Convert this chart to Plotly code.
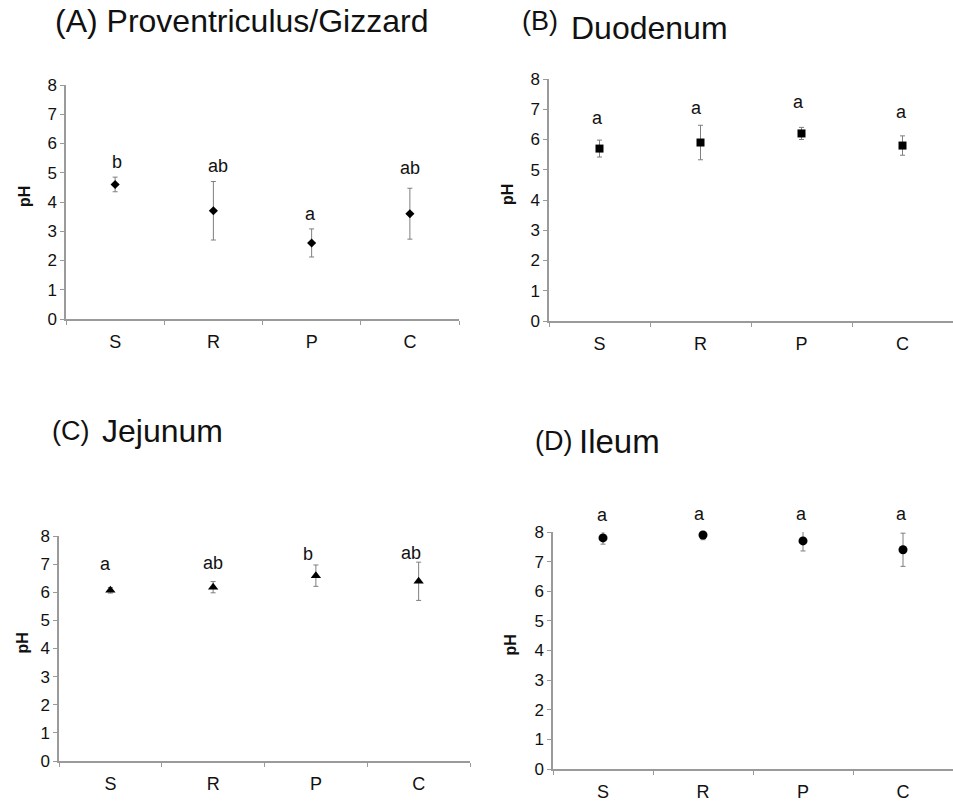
import plotly.graph_objects as go

W, H = 953, 801

categories = ["S", "R", "P", "C"]

# Panel values (mean pH and error)
gizzard_mean = [4.6, 3.7, 2.6, 3.6]
gizzard_err = [0.25, 1.0, 0.48, 0.87]
gizzard_letters = ["b", "ab", "a", "ab"]
gizzard_letter_y = [5.38, 5.23, 3.6, 5.15]

duodenum_mean = [5.7, 5.9, 6.2, 5.8]
duodenum_err = [0.28, 0.57, 0.2, 0.32]
duodenum_letters = ["a", "a", "a", "a"]
duodenum_letter_y = [6.7, 7.03, 7.23, 6.9]

jejunum_mean = [6.07, 6.18, 6.59, 6.39]
jejunum_err = [0.1, 0.2, 0.38, 0.68]
jejunum_letters = ["a", "ab", "b", "ab"]
jejunum_letter_y = [7.01, 7.05, 7.37, 7.4]

ileum_mean = [7.8, 7.9, 7.7, 7.4]
ileum_err = [0.21, 0.16, 0.34, 0.56]
ileum_letters = ["a", "a", "a", "a"]
ileum_letter_y = [8.59, 8.6, 8.62, 8.62]

yticks = [0, 1, 2, 3, 4, 5, 6, 7, 8]
YMAX = 8


def px(x):
    return x / W


def py(y):
    return 1 - y / H


FONT = "Liberation Sans, Arial, sans-serif"
AXIS_GRAY = "#9a9a9a"

panels = [
    dict(mean=gizzard_mean, err=gizzard_err, letters=gizzard_letters, ly=gizzard_letter_y,
         symbol="diamond", size=7, xd=(66, 459), yd=(85, 319), phx=25,
         shifts=[2, 5, -1, 0]),
    dict(mean=duodenum_mean, err=duodenum_err, letters=duodenum_letters, ly=duodenum_letter_y,
         symbol="square", size=8, xd=(549, 953), yd=(79, 321), phx=507,
         shifts=[-2, -4, -3, -1]),
    dict(mean=jejunum_mean, err=jejunum_err, letters=jejunum_letters, ly=jejunum_letter_y,
         symbol="triangle-up", size=9, xd=(59, 470), yd=(536, 761), phx=22,
         shifts=[-5, 0, -8, -8]),
    dict(mean=ileum_mean, err=ileum_err, letters=ileum_letters, ly=ileum_letter_y,
         symbol="circle", size=9, xd=(553, 953), yd=(532, 769), phx=510,
         shifts=[-1, -4, -2, -2]),
]

fig = go.Figure()
annotations = []
layout = {}

for i, p in enumerate(panels, start=1):
    xa = "x" if i == 1 else f"x{i}"
    ya = "y" if i == 1 else f"y{i}"
    fig.add_trace(go.Scatter(
        x=categories, y=p["mean"], mode="markers",
        marker=dict(symbol=p["symbol"], size=p["size"], color="black"),
        error_y=dict(type="data", array=p["err"], color="#7f7f7f", thickness=1, width=2.5),
        xaxis=xa, yaxis=ya, cliponaxis=False, showlegend=False, hoverinfo="skip",
    ))
    layout["xaxis" if i == 1 else f"xaxis{i}"] = dict(
        domain=[px(p["xd"][0]), min(1.0, px(p["xd"][1]))],
        anchor=ya, type="category", categoryarray=categories,
        range=[-0.5, 3.5], tickson="boundaries", ticks="outside", ticklen=4,
        ticklabelstandoff=6,
        tickcolor=AXIS_GRAY, showline=True, linecolor=AXIS_GRAY, linewidth=1.5,
        showgrid=False, zeroline=False,
        tickfont=dict(family=FONT, size=18, color="#111"),
    )
    layout["yaxis" if i == 1 else f"yaxis{i}"] = dict(
        domain=[py(p["yd"][1]), py(p["yd"][0])],
        anchor=xa, range=[0, YMAX], tickvals=yticks, ticks="outside", ticklen=4,
        tickcolor=AXIS_GRAY, showline=True, linecolor=AXIS_GRAY, linewidth=1.5,
        showgrid=False, zeroline=False,
        tickfont=dict(family=FONT, size=17, color="#111"),
    )
    for c, lt, ly, sh in zip(categories, p["letters"], p["ly"], p["shifts"]):
        annotations.append(dict(
            x=c, y=ly / YMAX, xref=xa, yref=f"{ya} domain", text=lt, showarrow=False,
            xanchor="center", yanchor="middle", xshift=sh,
            font=dict(family=FONT, size=18, color="#111"),
        ))
    annotations.append(dict(
        x=px(p["phx"]), y=py((p["yd"][0] + p["yd"][1]) / 2 - 5), xref="paper", yref="paper",
        text="<b>pH</b>", textangle=-90, showarrow=False,
        xanchor="center", yanchor="middle",
        font=dict(family=FONT, size=16, color="#111"),
    ))

titles = [
    ("(A) Proventriculus/Gizzard", 53, 21, 32),
    ("(B)", 520, 21, 27),
    ("Duodenum", 569, 28, 32),
    ("(C)", 50, 431, 27),
    ("Jejunum", 100, 431, 32),
    ("(D)", 533, 441, 27),
    ("Ileum", 577, 441, 33),
]
for t, x, y, s in titles:
    annotations.append(dict(
        x=px(x), y=py(y), xref="paper", yref="paper", text=t, showarrow=False,
        xanchor="left", yanchor="middle",
        font=dict(family=FONT, size=s, color="#111"),
    ))

fig.update_layout(
    autosize=True, margin=dict(l=0, r=0, t=0, b=0, autoexpand=False),
    paper_bgcolor="white", plot_bgcolor="white", hovermode=False,
    annotations=annotations, **layout,
)

post = (
    "var gd=document.getElementById('{plot_id}');"
    "document.documentElement.style.height='100%';"
    "document.documentElement.style.margin='0';"
    "document.documentElement.style.overflow='hidden';"
    "document.body.style.height='100%';"
    "document.body.style.margin='0';"
    "document.body.style.padding='0';"
    "document.body.style.overflow='hidden';"
    "gd.parentElement.style.height='100%';"
    "gd.parentElement.style.width='100%';"
    "gd.style.height='100%';gd.style.width='100%';"
    "Plotly.Plots.resize(gd);"
)

fig.write_html(
    "out.html",
    default_width="100%",
    default_height="100%",
    config={"responsive": True, "displayModeBar": False},
    post_script=post,
)
